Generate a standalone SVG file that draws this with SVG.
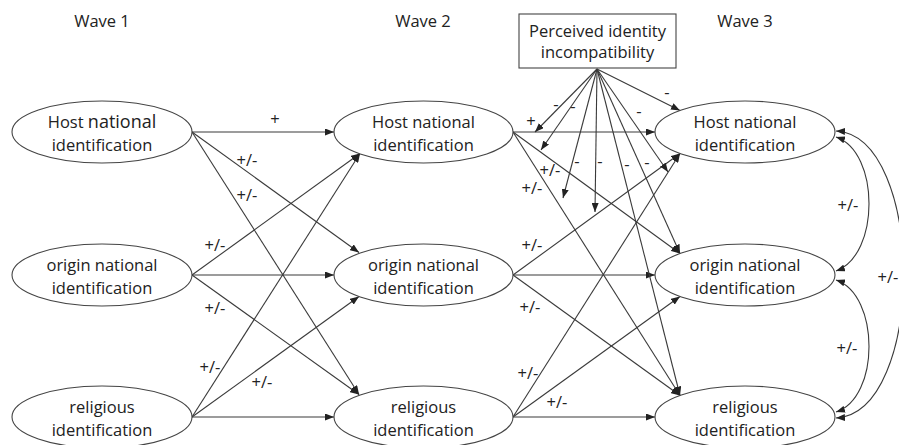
<svg xmlns="http://www.w3.org/2000/svg" width="899" height="445" viewBox="0 0 899 445">
<style>
text{font-family:"Open Sans","Liberation Sans",sans-serif;font-size:16.5px;fill:#222;text-anchor:middle}
.node{fill:#fff;stroke:#444;stroke-width:1.1}
.ln{fill:none;stroke:#3a3a3a;stroke-width:1.1}
</style>
<defs>
<marker id="ah" viewBox="0 0 9 7" refX="9" refY="3.5" markerWidth="9" markerHeight="7" markerUnits="userSpaceOnUse" orient="auto-start-reverse">
<path d="M0,0 L9,3.5 L0,7 z" fill="#222"/>
</marker>
</defs>
<rect width="899" height="445" fill="#fff"/>
<g id="titles">
<text x="102" y="27">Wave 1</text>
<text x="423" y="27">Wave 2</text>
<text x="745" y="27">Wave 3</text>
</g>
<g id="connectors">
<g marker-end="url(#ah)" class="ln">
<line x1="192" y1="132" x2="334" y2="132"/>
<line x1="192" y1="132" x2="359" y2="252.5"/>
<line x1="192" y1="132" x2="359" y2="394.5"/>
<line x1="192" y1="275" x2="360" y2="153.5"/>
<line x1="192" y1="275" x2="334" y2="275"/>
<line x1="192" y1="275" x2="359" y2="394.5"/>
<line x1="192" y1="417" x2="360" y2="153.5"/>
<line x1="192" y1="417" x2="359" y2="296.5"/>
<line x1="192" y1="417" x2="334" y2="417"/>
<line x1="513" y1="132" x2="655" y2="132"/>
<line x1="513" y1="132" x2="680" y2="253.5"/>
<line x1="513" y1="132" x2="680" y2="395.5"/>
<line x1="513" y1="275" x2="680" y2="153.5"/>
<line x1="513" y1="275" x2="655" y2="275"/>
<line x1="513" y1="275" x2="680" y2="395.5"/>
<line x1="513" y1="417" x2="680" y2="153.5"/>
<line x1="513" y1="417" x2="680" y2="296.5"/>
<line x1="513" y1="417" x2="655" y2="417"/>
<line x1="597" y1="69" x2="535" y2="132"/>
<line x1="597" y1="69" x2="541" y2="150"/>
<line x1="597" y1="69" x2="563" y2="198"/>
<line x1="597" y1="69" x2="595" y2="212"/>
<line x1="597" y1="69" x2="680" y2="253.5"/>
<line x1="597" y1="69" x2="680" y2="395.5"/>
<line x1="597" y1="69" x2="668" y2="172"/>
<line x1="597" y1="69" x2="680" y2="110.5"/>
</g>
<g class="ln" marker-start="url(#ah)" marker-end="url(#ah)">
<path d="M836,137 C880,152 880,255 836,271"/>
<path d="M836,280 C880,295 880,398 836,412"/>
<path d="M836,131 C926,136 926,413 836,418"/>
</g>
</g>
<g id="edge-labels">
<text x="275" y="125">+</text>
<text x="247" y="166">+/-</text>
<text x="247" y="201">+/-</text>
<text x="215" y="251">+/-</text>
<text x="215" y="314">+/-</text>
<text x="210" y="373">+/-</text>
<text x="262" y="388">+/-</text>
<text x="531" y="127">+</text>
<text x="550" y="176">+/-</text>
<text x="532" y="194">+/-</text>
<text x="532" y="251">+/-</text>
<text x="530" y="313">+/-</text>
<text x="528" y="379">+/-</text>
<text x="557" y="408">+/-</text>
<text x="848" y="211">+/-</text>
<text x="847" y="354">+/-</text>
<text x="888" y="283">+/-</text>
<text x="556" y="109.5">-</text>
<text x="573" y="111.5">-</text>
<text x="577" y="166.5">-</text>
<text x="600" y="166.5">-</text>
<text x="627" y="169.5">-</text>
<text x="647" y="167.5">-</text>
<text x="639" y="116.5">-</text>
<text x="667" y="97.5">-</text>
</g>
<g id="incompatibility">
<rect x="519" y="14" width="157" height="54" fill="#fff" stroke="#444" stroke-width="1.1"/>
<text x="597.5" y="37">Perceived identity</text>
<text x="597.5" y="58">incompatibility</text>
</g>
<g id="w1-host">
<ellipse class="node" cx="102" cy="132" rx="90" ry="31"/>
<text x="102" y="128">Host <tspan font-size="18">national</tspan></text>
<text x="102" y="151">identification</text>
</g>
<g id="w1-origin">
<ellipse class="node" cx="102" cy="275" rx="90" ry="31"/>
<text x="102" y="271">origin national</text>
<text x="102" y="294">identification</text>
</g>
<g id="w1-religious">
<ellipse class="node" cx="102" cy="417" rx="90" ry="31"/>
<text x="102" y="413">religious</text>
<text x="102" y="436">identification</text>
</g>
<g id="w2-host">
<ellipse class="node" cx="423.5" cy="132" rx="89.5" ry="31"/>
<text x="423.5" y="128">Host national</text>
<text x="423.5" y="151">identification</text>
</g>
<g id="w2-origin">
<ellipse class="node" cx="423.5" cy="275" rx="89.5" ry="31"/>
<text x="423.5" y="271">origin national</text>
<text x="423.5" y="294">identification</text>
</g>
<g id="w2-religious">
<ellipse class="node" cx="423.5" cy="417" rx="89.5" ry="31"/>
<text x="423.5" y="413">religious</text>
<text x="423.5" y="436">identification</text>
</g>
<g id="w3-host">
<ellipse class="node" cx="745" cy="132" rx="90" ry="31"/>
<text x="745" y="128">Host national</text>
<text x="745" y="151">identification</text>
</g>
<g id="w3-origin">
<ellipse class="node" cx="745" cy="275" rx="90" ry="31"/>
<text x="745" y="271">origin national</text>
<text x="745" y="294">identification</text>
</g>
<g id="w3-religious">
<ellipse class="node" cx="745" cy="417" rx="90" ry="31"/>
<text x="745" y="413">religious</text>
<text x="745" y="436">identification</text>
</g>
</svg>
